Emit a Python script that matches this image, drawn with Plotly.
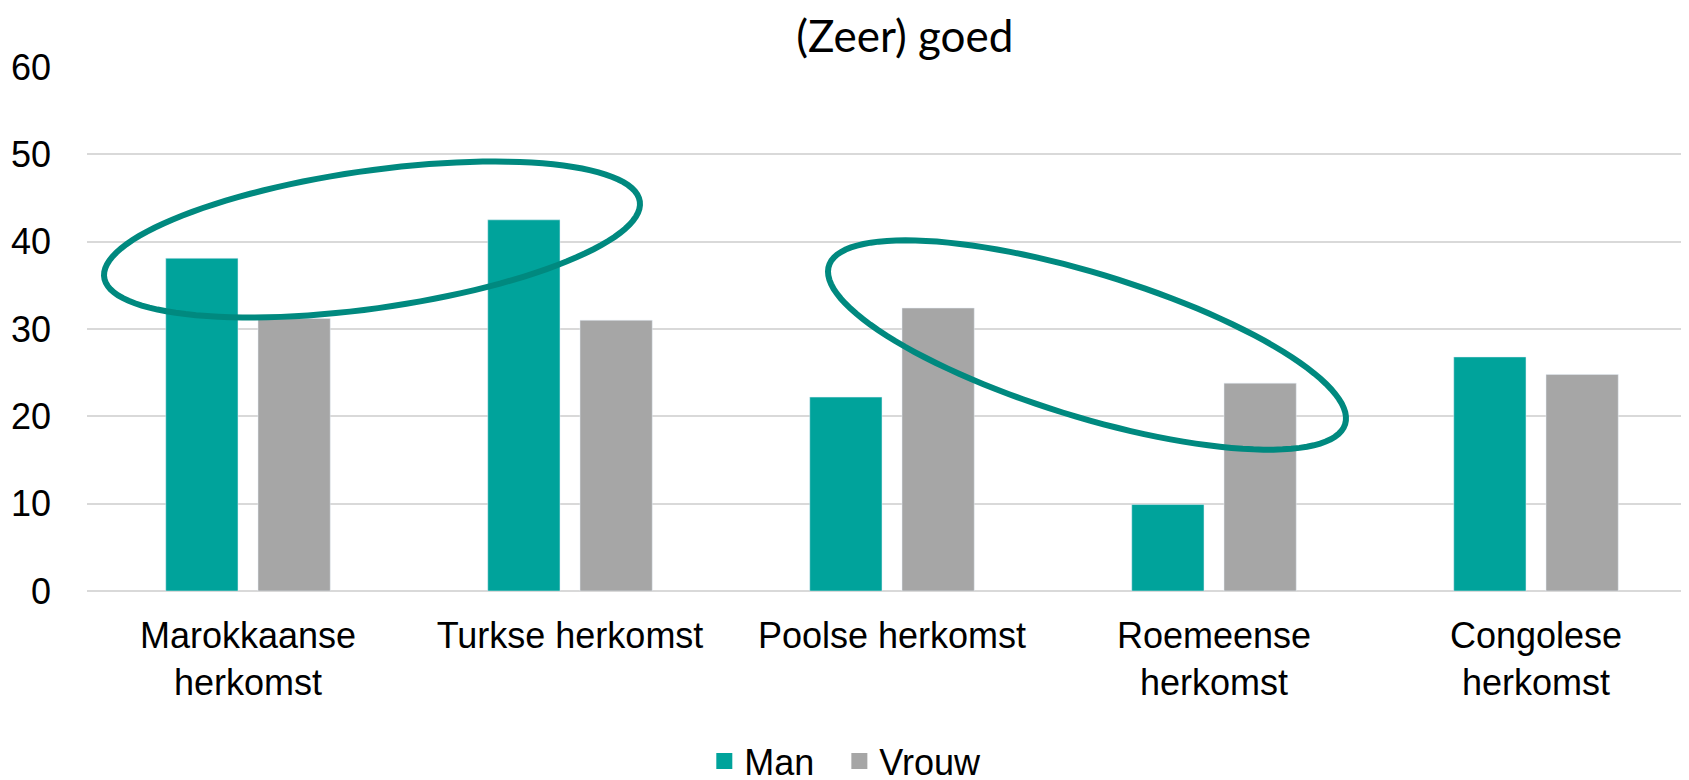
import numpy as np
import plotly.graph_objects as go

# data
categories = ['Marokkaanse<br>herkomst', 'Turkse herkomst', 'Poolse herkomst',
              'Roemeense<br>herkomst', 'Congolese<br>herkomst']
man = [38.1, 42.5, 22.2, 9.9, 26.8]
vrouw = [31.2, 31.0, 32.4, 23.8, 24.8]
y_ticks = [0, 10, 20, 30, 40, 50, 60]

W, H = 1689, 780
OFF = 8  # page body margin
ML, MR, MT, MB = 87 - OFF, 0, 67 - OFF, 189 + OFF
pw, ph = W - ML - MR, H - MT - MB

TEAL = '#00A39B'
GREY = '#A6A6A6'
RING = '#00897F'
FONT = 'Liberation Sans, Arial, sans-serif'

fig = go.Figure()
fig.add_trace(go.Bar(name='Man', x=categories, y=man, marker_color=TEAL, showlegend=False))
fig.add_trace(go.Bar(name='Vrouw', x=categories, y=vrouw, marker_color=GREY, showlegend=False))
# legend entries with bigger squares
for name, col in [('Man\u00a0\u00a0', TEAL), ('Vrouw', GREY)]:
    fig.add_trace(go.Scatter(name=name, x=[None], y=[None], mode='markers',
                             marker=dict(symbol='square', size=18, color=col)))


# rotated ellipses, given in page pixels (cx, cy, semi-major, semi-minor, angle)
def ellipse_path(cx, cy, a, b, ang):
    th = np.radians(ang)
    t = np.linspace(0, 2 * np.pi, 120)
    px = cx + a * np.cos(th) * np.cos(t) - b * np.sin(th) * np.sin(t) - OFF
    py = cy - (a * np.sin(th) * np.cos(t) + b * np.cos(th) * np.sin(t)) - OFF
    xs = (px - ML) / pw
    ys = (H - MB - py) / ph
    pts = ['%s%.5f,%.5f' % ('M' if i == 0 else 'L', x, y) for i, (x, y) in enumerate(zip(xs, ys))]
    return ' '.join(pts) + ' Z'


rings = [(372, 239.5, 270.5, 68.8, 8.07), (1087, 345, 270, 71.7, -17.04)]
for r in rings:
    fig.add_shape(type='path', path=ellipse_path(*r), xref='paper', yref='paper',
                  line=dict(color=RING, width=6), layer='above')

fig.update_layout(
    width=W, height=H,
    margin=dict(l=ML, r=MR, t=MT, b=MB, autoexpand=False),
    paper_bgcolor='white', plot_bgcolor='white',
    barmode='group', bargap=0.427, bargroupgap=0.217,
    font=dict(family=FONT, size=36, color='black'),
    title=dict(text='(Zeer) goed', x=0.508, xref='paper', xanchor='center',
               y=1 - (37 - OFF) / H, yref='container', yanchor='middle',
               font=dict(family='Lato, Calibri, sans-serif', size=44, color='black')),
    legend=dict(orientation='h', x=0.471, xanchor='center',
                y=1 - (761 - OFF) / H, yref='container', yanchor='middle',
                font=dict(size=36), itemsizing='trace'),
)
fig.update_xaxes(showgrid=False, showline=False, ticks='', ticklabelstandoff=20)
fig.update_yaxes(range=[0, 60], tickvals=y_ticks, showgrid=True, gridcolor='#D9D9D9',
                 gridwidth=2, zeroline=True, zerolinecolor='#D9D9D9', zerolinewidth=2,
                 showline=False, ticks='', ticklabelstandoff=35)

fig.write_html('out.html')
